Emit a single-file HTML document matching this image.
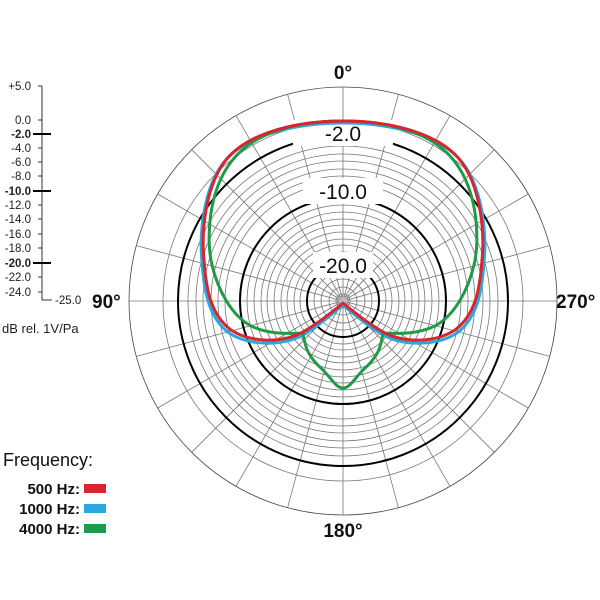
<!DOCTYPE html><html><head><style>body{margin:0;background:#fff}svg{display:block}</style></head><body>
<svg width="600" height="600" xmlns="http://www.w3.org/2000/svg" font-family="Liberation Sans, sans-serif">
<g fill="none" stroke="#777" stroke-width="0.8">
<circle cx="343" cy="301" r="214" stroke="#444"/>
<circle cx="343" cy="301" r="180"/><circle cx="343" cy="301" r="155"/><circle cx="343" cy="301" r="147"/><circle cx="343" cy="301" r="140"/><circle cx="343" cy="301" r="132"/><circle cx="343" cy="301" r="125"/><circle cx="343" cy="301" r="118"/><circle cx="343" cy="301" r="96"/><circle cx="343" cy="301" r="89"/><circle cx="343" cy="301" r="82"/><circle cx="343" cy="301" r="76"/><circle cx="343" cy="301" r="69"/><circle cx="343" cy="301" r="62"/><circle cx="343" cy="301" r="56"/><circle cx="343" cy="301" r="49"/><circle cx="343" cy="301" r="43"/><circle cx="343" cy="301" r="29"/><circle cx="343" cy="301" r="22"/><circle cx="343" cy="301" r="14"/><circle cx="343" cy="301" r="7"/>
<g id="sp">
<line x1="343" y1="87" x2="343" y2="515"/><line x1="129" y1="301" x2="557" y2="301"/>
</g>
<use href="#sp" transform="rotate(15 343 301)"/><use href="#sp" transform="rotate(30 343 301)"/><use href="#sp" transform="rotate(45 343 301)"/><use href="#sp" transform="rotate(60 343 301)"/><use href="#sp" transform="rotate(75 343 301)"/>
</g>
<g fill="none" stroke="#000" stroke-width="2">
<circle cx="343" cy="301" r="165"/><circle cx="343" cy="301" r="103"/><circle cx="343" cy="301" r="36"/>
</g>
<g fill="#fff"><rect x="293" y="120" width="100" height="26"/><rect x="303" y="178" width="80" height="26"/><rect x="313" y="252" width="60" height="26"/></g>
<g font-size="21" text-anchor="middle" fill="#111">
<text x="343" y="141">-2.0</text><text x="343" y="199">-10.0</text><text x="343" y="273">-20.0</text></g>
<circle cx="343" cy="301" r="5" fill="#bbb" stroke="#888"/>
<g fill="none" stroke-width="3" stroke-linejoin="round">
<path stroke="#2aa8e0" d="M343,123 C395,123 442,137 462,162 C482,187 487,232 484,262 C482,292 477,318 457,333 C437,346 405,346 385,336 C370,328 355,315 343,305 C331,315 316,328 301,336 C281,346 249,346 229,333 C209,318 204,292 202,262 C199,232 204,187 224,162 C244,137 291,123 343,123Z"/>
<path stroke="#1f9a48" d="M343,121 C395,121 435,135 455,162 C478,192 480,240 474,265 C468,290 455,315 435,326 C418,334 400,334 383,333 C381,345 380,355 363,370 C355,378 350,388 343,388 C336,388 331,378 323,370 C306,355 305,345 303,333 C286,334 268,334 251,326 C231,315 218,290 212,265 C206,240 208,192 231,162 C251,135 291,121 343,121Z"/>
<path stroke="#d8262c" d="M343,121 C395,121 440,135 460,160 C480,185 485,230 482,260 C480,290 475,315 455,330 C435,343 405,343 385,333 C370,325 355,313 343,303 C331,313 316,325 301,333 C281,343 251,343 231,330 C211,315 206,290 204,260 C201,230 206,185 226,160 C246,135 291,121 343,121Z"/>
</g>
<g font-size="19" font-weight="bold" fill="#111">
<text x="343" y="79" text-anchor="middle">0°</text><text x="92" y="308">90°</text><text x="556" y="308">270°</text><text x="343" y="537" text-anchor="middle">180°</text></g>
<g stroke="#333" stroke-width="1"><line x1="42" y1="86" x2="42" y2="300"/><line x1="42" y1="300" x2="52" y2="300"/>
<line x1="38" y1="86" x2="42" y2="86"/><line x1="38" y1="120" x2="42" y2="120"/><line x1="38" y1="148" x2="42" y2="148"/><line x1="38" y1="162" x2="42" y2="162"/><line x1="38" y1="176" x2="42" y2="176"/><line x1="38" y1="205" x2="42" y2="205"/><line x1="38" y1="219" x2="42" y2="219"/><line x1="38" y1="234" x2="42" y2="234"/><line x1="38" y1="248" x2="42" y2="248"/><line x1="38" y1="277" x2="42" y2="277"/><line x1="38" y1="292" x2="42" y2="292"/></g>
<g stroke="#000" stroke-width="2"><line x1="33" y1="134" x2="51" y2="134"/><line x1="33" y1="191" x2="51" y2="191"/><line x1="33" y1="263" x2="51" y2="263"/></g>
<g font-size="11.5" text-anchor="end" fill="#222">
<text x="31" y="90">+5.0</text><text x="31" y="124">0.0</text><text x="31" y="138" font-weight="bold">-2.0</text><text x="31" y="152">-4.0</text><text x="31" y="166">-6.0</text><text x="31" y="180">-8.0</text><text x="31" y="195" font-weight="bold">-10.0</text><text x="31" y="209">-12.0</text><text x="31" y="223">-14.0</text><text x="31" y="238">-16.0</text><text x="31" y="252">-18.0</text><text x="31" y="267" font-weight="bold">-20.0</text><text x="31" y="281">-22.0</text><text x="31" y="296">-24.0</text></g>
<text x="55" y="304" font-size="11.5" fill="#222">-25.0</text>
<text x="2" y="333" font-size="13" fill="#222">dB rel. 1V/Pa</text>
<text x="3" y="466" font-size="18" fill="#111">Frequency:</text>
<g font-size="15" font-weight="bold" text-anchor="end" fill="#111"><text x="80" y="494">500 Hz:</text><text x="80" y="514">1000 Hz:</text><text x="80" y="534">4000 Hz:</text></g>
<rect x="84" y="484" width="22" height="9" fill="#d8262c"/><rect x="84" y="504" width="22" height="9" fill="#2aa8e0"/><rect x="84" y="524" width="22" height="9" fill="#1f9a48"/>
</svg></body></html>
